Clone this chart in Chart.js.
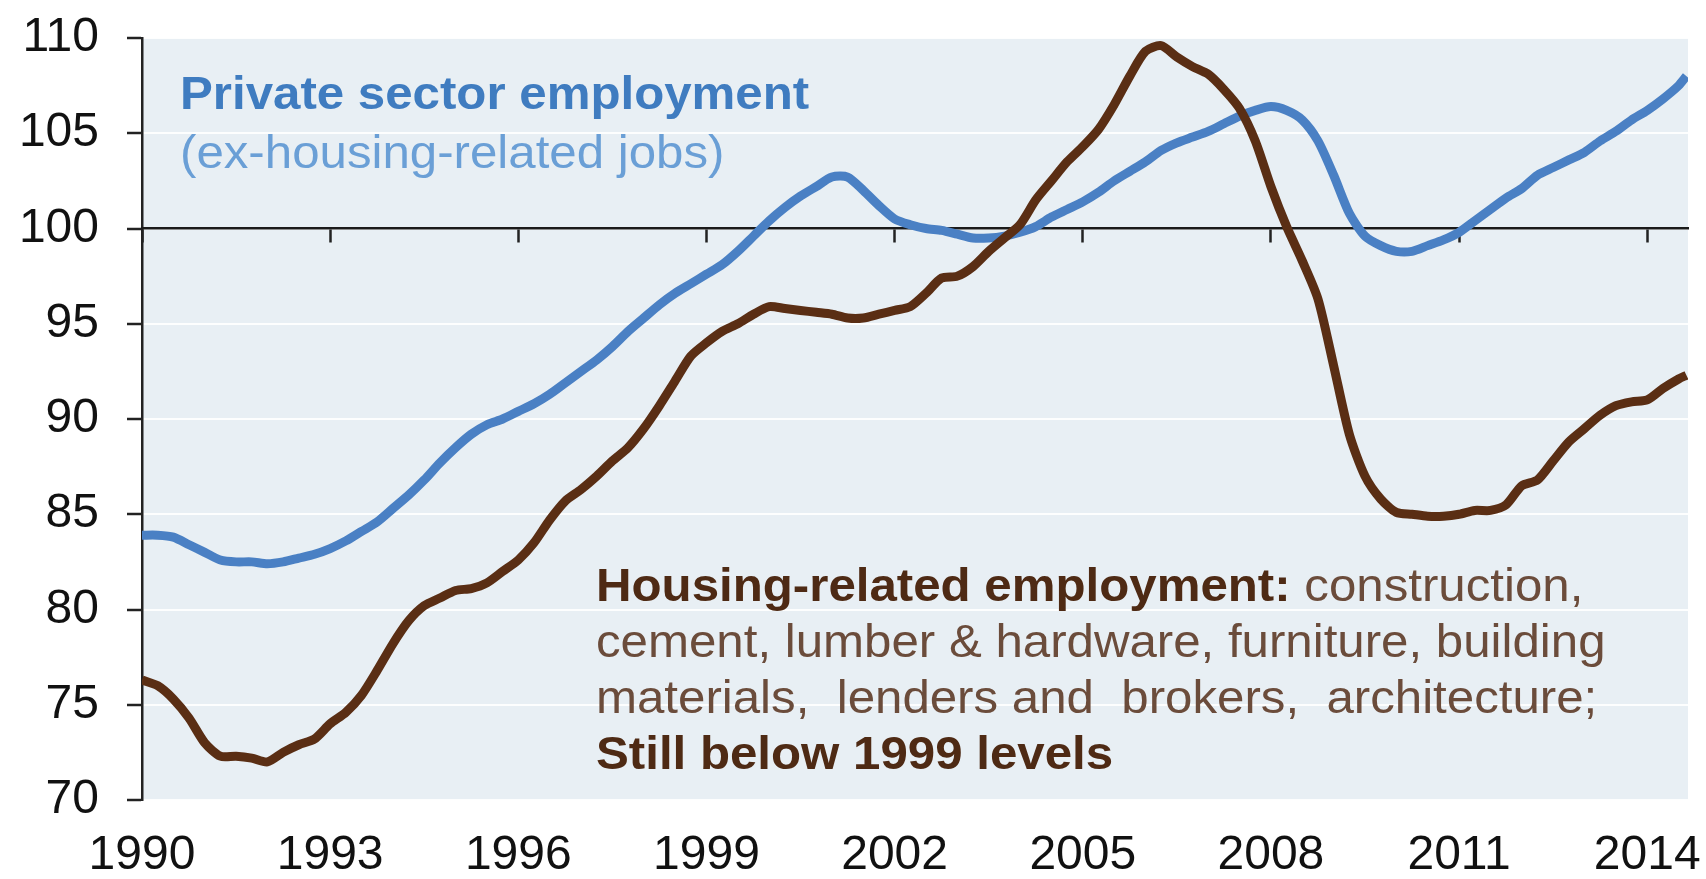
<!DOCTYPE html>
<html>
<head>
<meta charset="utf-8">
<script src="https://cdn.jsdelivr.net/npm/chart.js@4.4.1/dist/chart.umd.min.js"></script>
<style>
  html, body { margin: 0; padding: 0; background: #fff; }
  #wrap { width: 1706px; height: 879px; position: relative; }
</style>
</head>
<body>
<div id="wrap"><canvas id="chartEmprego"></canvas></div>
<script>
// leituras trimestrais do gráfico (índice)
const tickYears = [1990, 1993, 1996, 1999, 2002, 2005, 2008, 2011, 2014];
const yTicks = [70, 75, 80, 85, 90, 95, 100, 105, 110];

const years = [];
for (let y = 1990; y <= 2014.5; y += 0.25) years.push(y);
years.push(2014.625);

// Private sector employment (ex-housing-related jobs)
const privateEx = [
  83.9, 83.9, 83.8, 83.4,
  83.0, 82.6, 82.5, 82.5,
  82.4, 82.5, 82.7, 82.9,
  83.2, 83.6, 84.1, 84.6,
  85.3, 86.0, 86.8, 87.7,
  88.5, 89.2, 89.7, 90.0,
  90.4, 90.8, 91.3, 91.9,
  92.5, 93.1, 93.8, 94.6,
  95.3, 96.0, 96.6, 97.1,
  97.6, 98.1, 98.8, 99.6,
  100.4, 101.1, 101.7, 102.2,
  102.7, 102.7, 102.0, 101.2,
  100.5, 100.2, 100.0, 99.9,
  99.7, 99.5, 99.5, 99.6,
  99.8, 100.1, 100.6, 101.0,
  101.4, 101.9, 102.5, 103.0,
  103.5, 104.1, 104.5, 104.8,
  105.1, 105.5, 105.9, 106.2,
  106.4, 106.2, 105.7, 104.6,
  102.8, 100.8, 99.6, 99.1,
  98.8, 98.8, 99.1, 99.4,
  99.8, 100.4, 101.0, 101.6,
  102.1, 102.8, 103.2, 103.6,
  104.0, 104.6, 105.1, 105.7,
  106.2, 106.8, 107.5, 108.0
];

// Housing-related employment
const housing = [
  76.3, 76.0, 75.3, 74.3,
  73.0, 72.3, 72.3, 72.2,
  72.0, 72.5, 72.9, 73.2,
  74.0, 74.6, 75.5, 76.8,
  78.2, 79.4, 80.2, 80.6,
  81.0, 81.1, 81.4, 82.0,
  82.6, 83.5, 84.7, 85.7,
  86.3, 87.0, 87.8, 88.5,
  89.5, 90.7, 92.0, 93.3,
  94.0, 94.6, 95.0, 95.5,
  95.9, 95.8, 95.7, 95.6,
  95.5, 95.3, 95.3, 95.5,
  95.7, 95.9, 96.6, 97.4,
  97.5, 98.0, 98.8, 99.5,
  100.2, 101.5, 102.5, 103.5,
  104.3, 105.2, 106.5, 108.0,
  109.3, 109.6, 109.0, 108.5,
  108.1, 107.3, 106.3, 104.6,
  102.2, 100.1, 98.3, 96.3,
  92.8, 89.2, 87.0, 85.8,
  85.1, 85.0, 84.9, 84.9,
  85.0, 85.2, 85.2, 85.5,
  86.5, 86.8, 87.8, 88.8,
  89.5, 90.2, 90.7, 90.9,
  91.0, 91.6, 92.1, 92.3
];

const FONT = '"Liberation Sans", Arial, sans-serif';

const pontos = (vals) => years.map((x, i) => ({ x: x, y: vals[i] }));

// escreve texto esticado na horizontal (o original é um pouco largo)
function escreve(ctx, txt, x, y, font, cor) {
  ctx.save();
  ctx.font = font;
  ctx.fillStyle = cor;
  ctx.translate(x, y);
  ctx.scale(1.07, 1);
  ctx.fillText(txt, 0, 0);
  const w = ctx.measureText(txt).width * 1.07;
  ctx.restore();
  return w;
}

const fundoPlugin = {
  id: 'fundo',
  beforeDraw(chart) {
    const { ctx, chartArea: a } = chart;
    ctx.save();
    ctx.fillStyle = '#e8eff4';
    ctx.fillRect(a.left, a.top, a.right - a.left, a.bottom - a.top);
    ctx.restore();
  },
  afterDraw(chart) {
    const ctx = chart.ctx;
    ctx.save();
    ctx.textBaseline = 'middle';
    ctx.textAlign = 'left';
    const bold = 'bold 46px ' + FONT;
    const reg = '46px ' + FONT;

    escreve(ctx, 'Private sector employment', 180, 96, bold, '#3f7cc0');
    escreve(ctx, '(ex-housing-related jobs)', 180, 155, reg, '#6a9fd6');

    const x0 = 596;
    const w1 = escreve(ctx, 'Housing-related employment:', x0, 588, bold, '#4e2a14');
    escreve(ctx, ' construction,', x0 + w1, 588, reg, '#6b4c3b');
    escreve(ctx, 'cement, lumber & hardware, furniture, building', x0, 644, reg, '#6b4c3b');
    escreve(ctx, 'materials,  lenders and  brokers,  architecture;', x0, 700, reg, '#6b4c3b');
    escreve(ctx, 'Still below 1999 levels', x0, 756, bold, '#4e2a14');
    ctx.restore();
  }
};

const setTicks = (scale) => { scale.ticks = tickYears.map(v => ({ value: v })); };

new Chart(document.getElementById('chartEmprego').getContext('2d'), {
  type: 'line',
  data: {
    datasets: [
      {
        label: 'Housing-related employment',
        data: pontos(housing),
        borderColor: '#5a2e14',
        borderWidth: 9,
        pointRadius: 0,
        tension: 0.25,
        xAxisID: 'x'
      },
      {
        label: 'Private sector employment',
        data: pontos(privateEx),
        borderColor: '#4a80c4',
        borderWidth: 9,
        pointRadius: 0,
        tension: 0.25,
        xAxisID: 'x'
      }
    ]
  },
  options: {
    responsive: true,
    maintainAspectRatio: false,
    devicePixelRatio: 1,
    animation: false,
    layout: { padding: { top: 38, right: 18, left: 0, bottom: 0 } },
    plugins: {
      legend: { display: false },
      tooltip: { enabled: false }
    },
    scales: {
      y: {
        type: 'linear',
        position: 'left',
        min: 70,
        max: 110,
        afterBuildTicks: (s) => { s.ticks = yTicks.map(v => ({ value: v })); },
        afterFit: (s) => { s.width = 142; s.paddingTop = 0; s.paddingBottom = 0; },
        ticks: {
          font: { family: FONT, size: 48 },
          color: '#111',
          padding: 28
        },
        grid: {
          color: 'rgba(255,255,255,0.9)',
          lineWidth: 2,
          tickColor: '#222',
          tickLength: 15,
          tickWidth: 2.5
        },
        border: { display: true, color: '#222', width: 2.5 }
      },
      x: {
        type: 'linear',
        position: { y: 100 },
        min: 1990,
        max: 2014.65,
        afterBuildTicks: setTicks,
        afterFit: (s) => { s.paddingLeft = 0; s.paddingRight = 0; },
        ticks: { display: false },
        grid: {
          drawOnChartArea: false,
          drawTicks: true,
          tickLength: 13,
          tickColor: '#222',
          tickWidth: 2.5
        },
        border: { display: true, color: '#1a1a1a', width: 2.5 }
      },
      xb: {
        type: 'linear',
        position: 'bottom',
        min: 1990,
        max: 2014.65,
        afterBuildTicks: setTicks,
        afterFit: (s) => { s.height = 79; s.paddingLeft = 0; s.paddingRight = 0; },
        ticks: {
          font: { family: FONT, size: 48 },
          color: '#111',
          padding: 27,
          autoSkip: false,
          maxRotation: 0,
          callback: (v) => String(v)
        },
        grid: { display: false, drawTicks: false },
        border: { display: false }
      }
    }
  },
  plugins: [fundoPlugin]
});
</script>
</body>
</html>
